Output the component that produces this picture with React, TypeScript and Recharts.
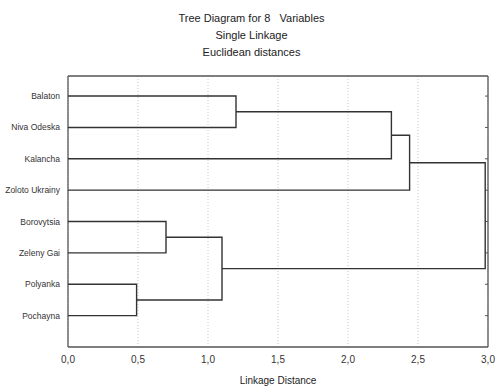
import { ComposedChart, Scatter, XAxis, YAxis, CartesianGrid, Label } from 'recharts';

// leaves, top to bottom
const leaves = ['Balaton', 'Niva Odeska', 'Kalancha', 'Zoloto Ukrainy', 'Borovytsia', 'Zeleny Gai', 'Polyanka', 'Pochayna'];

// single linkage joins: ids 0-7 are leaves, join k gets id 8 + k
const joinLeft = [6, 4, 9, 0, 11, 12, 13];
const joinRight = [7, 5, 8, 1, 2, 3, 10];
const joinHeight = [0.49, 0.7, 1.1, 1.2, 2.31, 2.44, 2.98];

const majorTicks = [0, 0.5, 1, 1.5, 2, 2.5, 3];
const minorTicks = [
  0, 0.1, 0.2, 0.3, 0.4, 0.5, 0.6, 0.7, 0.8, 0.9, 1, 1.1, 1.2, 1.3, 1.4, 1.5,
  1.6, 1.7, 1.8, 1.9, 2, 2.1, 2.2, 2.3, 2.4, 2.5, 2.6, 2.7, 2.8, 2.9, 3,
];
const leafTicks = [1, 2, 3, 4, 5, 6, 7, 8];

const FONT = '"Liberation Sans", Arial, sans-serif';
const FRAME = '#555';
const LINK = '#333';

// node position: x = joining distance, y = leaf row (centre of children for joins)
const nodes: { x: number; y: number }[] = leaves.map((_, i) => ({ x: 0, y: i + 1 }));
const links = joinHeight.map((h, k) => {
  const a = nodes[joinLeft[k]];
  const b = nodes[joinRight[k]];
  nodes.push({ x: h, y: (a.y + b.y) / 2 });
  return [
    { x: a.x, y: a.y },
    { x: h, y: a.y },
    { x: h, y: b.y },
    { x: b.x, y: b.y },
  ];
});

const titles = ['Tree Diagram for 8   Variables', 'Single Linkage', 'Euclidean distances'];

// leaf names on one line, right aligned to the axis
const LeafTick = ({ x, y, payload }: any) => (
  <text x={x - 6} y={y} dy={3} textAnchor="end" fontSize={8.5} fill="#333">
    {leaves[payload.value - 1]}
  </text>
);

export default function App() {
  return (
    <div style={{ position: 'absolute', left: 0, top: 0, width: 496, height: 387, background: '#fff', fontFamily: FONT }}>
      {titles.map((t, i) => (
        <div
          key={t}
          style={{
            position: 'absolute',
            left: 0,
            width: 503,
            top: 11 + i * 17,
            textAlign: 'center',
            fontSize: 11,
            lineHeight: '14px',
            color: '#222',
            whiteSpace: 'pre',
          }}
        >
          {t}
        </div>
      ))}
      <ComposedChart
        width={496}
        height={387}
        margin={{ top: 76, right: 8, bottom: 1, left: 8 }}
        style={{ fontFamily: FONT }}
      >
        <CartesianGrid horizontal={false} stroke="#c8c8c8" strokeDasharray="1 2" />
        <XAxis
          xAxisId="minor"
          type="number"
          dataKey="x"
          domain={[0, 3]}
          ticks={minorTicks}
          orientation="bottom"
          mirror
          height={0}
          tickSize={3}
          tickFormatter={() => ''}
          axisLine={false}
          tickLine={{ stroke: FRAME }}
        />
        <XAxis
          type="number"
          dataKey="x"
          domain={[0, 3]}
          ticks={majorTicks}
          allowDataOverflow
          height={39}
          tickLine={false}
          tickSize={0}
          tickMargin={9}
          axisLine={{ stroke: FRAME, strokeWidth: 1.3 }}
          tick={{ fontSize: 10, fill: '#333' }}
          tickFormatter={(v: number) => v.toFixed(1).replace('.', ',')}
        >
          <Label value="Linkage Distance" position="insideBottom" offset={2} style={{ fontSize: 10, fill: '#222' }} />
        </XAxis>
        <XAxis
          xAxisId="top"
          type="number"
          dataKey="x"
          domain={[0, 3]}
          ticks={minorTicks}
          orientation="top"
          mirror
          height={1}
          tickSize={3}
          tickFormatter={() => ''}
          axisLine={{ stroke: FRAME, strokeWidth: 1.3 }}
          tickLine={{ stroke: FRAME }}
        />
        <YAxis
          type="number"
          dataKey="y"
          domain={[0.36, 9]}
          allowDataOverflow
          reversed
          ticks={leafTicks}
          width={60}
          tickLine={false}
          tickSize={0}
          axisLine={{ stroke: FRAME, strokeWidth: 1.3 }}
          tick={<LeafTick />}
        />
        <YAxis
          yAxisId="right"
          orientation="right"
          type="number"
          dataKey="y"
          domain={[0.36, 9]}
          allowDataOverflow
          reversed
          ticks={leafTicks}
          width={1}
          mirror
          tickSize={3}
          tickFormatter={() => ''}
          axisLine={{ stroke: FRAME, strokeWidth: 1.3 }}
          tickLine={{ stroke: FRAME }}
        />
        {links.map((pts, k) => (
          <Scatter
            key={k}
            data={pts}
            line={{ stroke: LINK, strokeWidth: 1.4 }}
            shape={() => <g />}
            isAnimationActive={false}
          />
        ))}
      </ComposedChart>
    </div>
  );
}
